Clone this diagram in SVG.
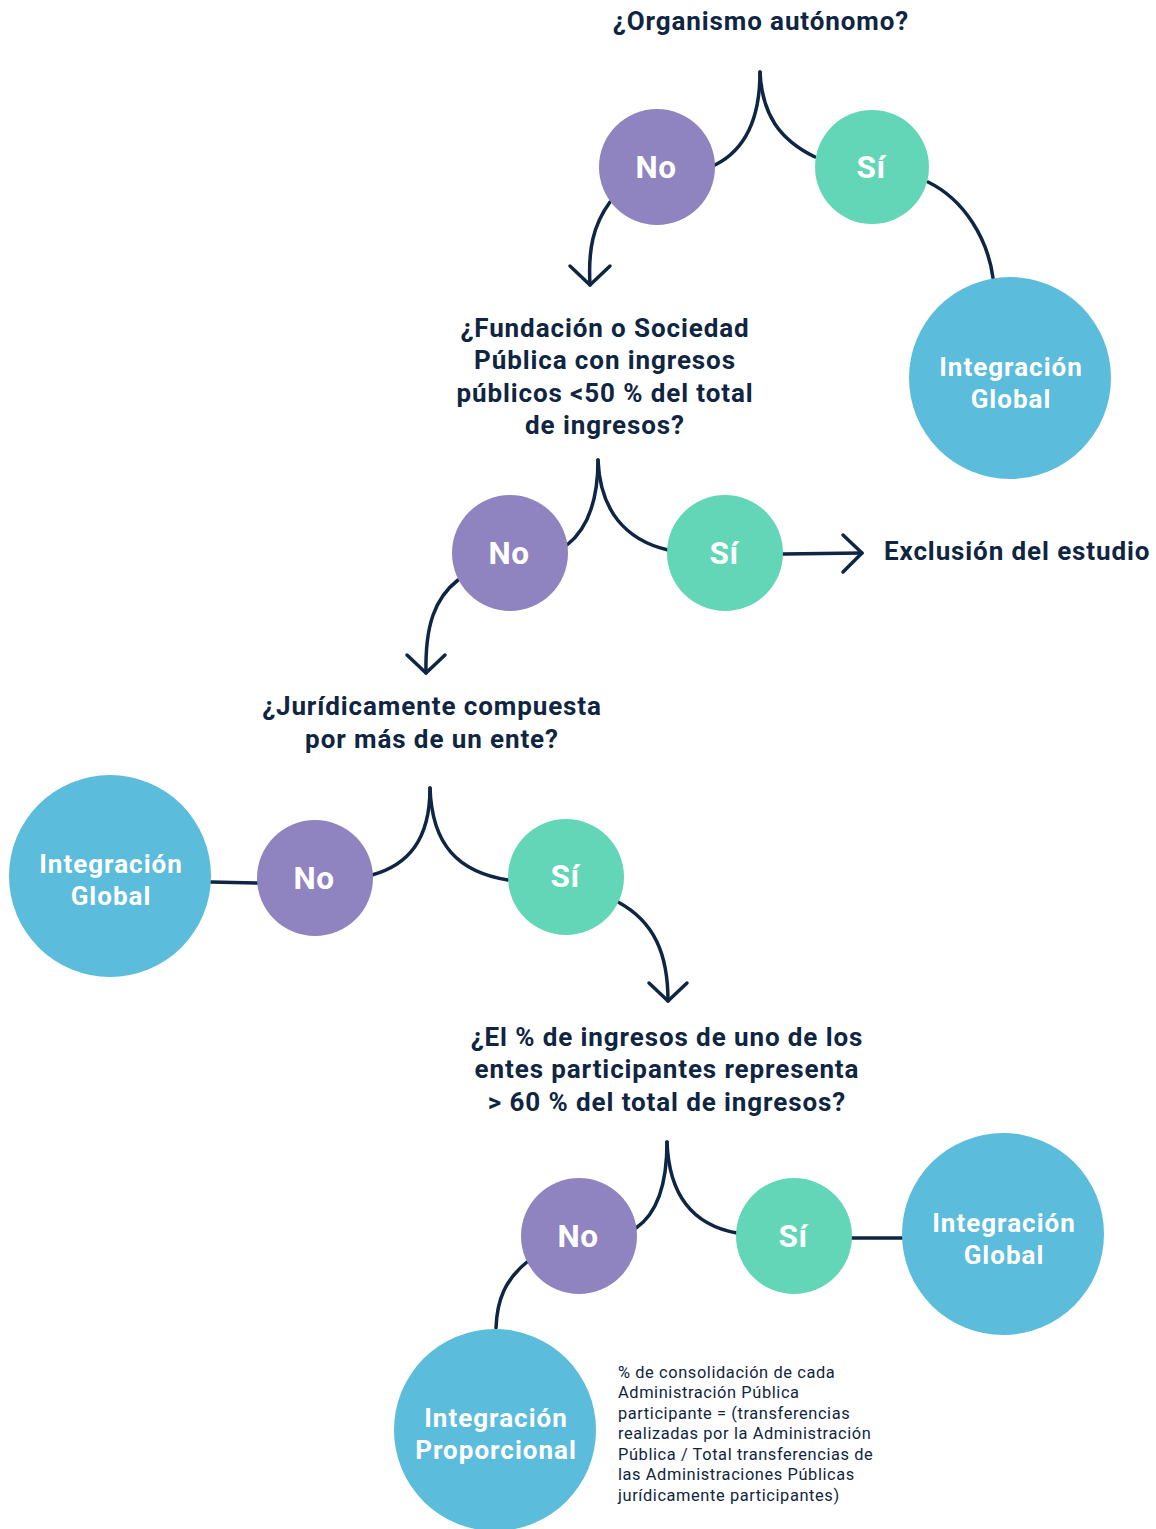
<svg xmlns="http://www.w3.org/2000/svg" width="1156" height="1529" viewBox="0 0 1156 1529">
<style>
.q{font-family:Roboto,"Liberation Sans",sans-serif;font-weight:700;font-size:26px;letter-spacing:0.9px;fill:#0F2541;text-anchor:middle}
.lbl{font-family:Roboto,"Liberation Sans",sans-serif;font-weight:700;font-size:31.5px;letter-spacing:0.6px;fill:#fff;text-anchor:middle}
.res{font-family:Roboto,"Liberation Sans",sans-serif;font-weight:700;font-size:26px;letter-spacing:1px;fill:#fff;text-anchor:middle}
.note{font-family:Roboto,"Liberation Sans",sans-serif;font-size:16.4px;letter-spacing:0.6px;fill:#0F2541}
.no{fill:#8F83C0}
.si{fill:#64D6B8}
.bl{fill:#5BBCDB}
.c{fill:none;stroke:#0E2643;stroke-width:3.5;stroke-linecap:round;stroke-linejoin:round}
</style>
<rect width="1156" height="1529" fill="#fff"/>
<g id="connectors">
<path class="c" d="M760,72 C760,120 745,150 715,165"/>
<path class="c" d="M760,72 C762,115 780,140 815,157"/>
<path class="c" d="M610,202 C593,225 588,250 590,285"/>
<path class="c" d="M570,266 L590,285 L610,266"/>
<path class="c" d="M928,182 C965,200 988,240 993,278"/>
<path class="c" d="M598,460 C598,505 586,530 567,545"/>
<path class="c" d="M598,460 C600,510 625,540 668,550"/>
<path class="c" d="M783,554 L862,553"/>
<path class="c" d="M843,535 L862,553 L843,572"/>
<path class="c" d="M458,580 C435,598 425,625 426,673"/>
<path class="c" d="M407,655 L426,673 L445,655"/>
<path class="c" d="M430,788 C430,840 408,865 372,875"/>
<path class="c" d="M430,788 C432,845 458,872 508,880"/>
<path class="c" d="M258,883 L211,882"/>
<path class="c" d="M618,902 C655,922 668,955 668,1001"/>
<path class="c" d="M649,983 L668,1001 L687,983"/>
<path class="c" d="M667,1142 C667,1190 655,1215 636,1228"/>
<path class="c" d="M667,1142 C669,1195 692,1225 737,1233"/>
<path class="c" d="M852,1238 L902,1238"/>
<path class="c" d="M527,1262 C505,1280 497,1300 496,1328"/>
</g>
<g id="q1"><text class="q" x="761" y="30">¿Organismo autónomo?</text></g>
<g id="q1-no"><circle class="no" cx="657" cy="167" r="58"/><text class="lbl" x="656" y="178">No</text></g>
<g id="q1-si"><circle class="si" cx="872" cy="167" r="57"/><text class="lbl" x="871" y="178">Sí</text></g>
<g id="r1"><circle class="bl" cx="1010" cy="378" r="101"/><text class="res" x="1011" y="376">Integración</text><text class="res" x="1011" y="408">Global</text></g>
<g id="q2"><text class="q" x="605" y="337">¿Fundación o Sociedad</text><text class="q" x="605" y="369">Pública con ingresos</text><text class="q" x="605" y="402">públicos &lt;50 % del total</text><text class="q" x="605" y="434">de ingresos?</text></g>
<g id="q2-no"><circle class="no" cx="510" cy="553" r="58"/><text class="lbl" x="509" y="564">No</text></g>
<g id="q2-si"><circle class="si" cx="725" cy="553" r="58"/><text class="lbl" x="724" y="564">Sí</text></g>
<g id="excl"><text class="q" x="884" y="560" style="text-anchor:start">Exclusión del estudio</text></g>
<g id="q3"><text class="q" x="432" y="715">¿Jurídicamente compuesta</text><text class="q" x="432" y="748">por más de un ente?</text></g>
<g id="q3-no"><circle class="no" cx="315" cy="878" r="58"/><text class="lbl" x="314" y="889">No</text></g>
<g id="q3-si"><circle class="si" cx="566" cy="877" r="58"/><text class="lbl" x="565" y="887">Sí</text></g>
<g id="r3"><circle class="bl" cx="110" cy="876" r="101"/><text class="res" x="111" y="873">Integración</text><text class="res" x="111" y="905">Global</text></g>
<g id="q4"><text class="q" x="667" y="1046">¿El % de ingresos de uno de los</text><text class="q" x="667" y="1078">entes participantes representa</text><text class="q" x="667" y="1111">&gt; 60 % del total de ingresos?</text></g>
<g id="q4-no"><circle class="no" cx="579" cy="1236" r="58"/><text class="lbl" x="578" y="1247">No</text></g>
<g id="q4-si"><circle class="si" cx="794" cy="1236" r="58"/><text class="lbl" x="793" y="1247">Sí</text></g>
<g id="r4si"><circle class="bl" cx="1003" cy="1234" r="101"/><text class="res" x="1004" y="1232">Integración</text><text class="res" x="1004" y="1264">Global</text></g>
<g id="r4no"><circle class="bl" cx="495" cy="1430" r="101"/><text class="res" x="496" y="1427">Integración</text><text class="res" x="496" y="1459">Proporcional</text></g>
<g id="note"><text class="note" x="618" y="1378">% de consolidación de cada</text><text class="note" x="618" y="1398">Administración Pública</text><text class="note" x="618" y="1419">participante = (transferencias</text><text class="note" x="618" y="1439">realizadas por la Administración</text><text class="note" x="618" y="1460">Pública / Total transferencias de</text><text class="note" x="618" y="1480">las Administraciones Públicas</text><text class="note" x="618" y="1501">jurídicamente participantes)</text></g>
</svg>
